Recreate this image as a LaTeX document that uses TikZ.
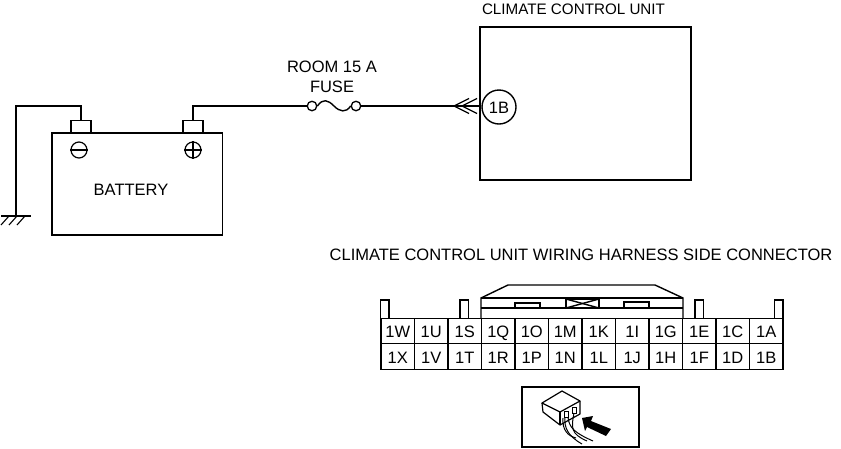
\documentclass[tikz,border=0pt]{standalone}
\usepackage{fontspec}
\setmainfont{Liberation Sans}
\tikzset{
  wire/.style={line width=1.4pt},
  part/.style={draw,line width=1.4pt,rectangle,inner sep=0pt},
  term/.style={draw,line width=1.3pt,circle,inner sep=0pt,minimum size=9.5pt},
  lbl/.style={inner sep=0pt,font=\fontsize{16.5}{19}\selectfont},
  ttl/.style={inner sep=0pt,font=\fontsize{15.2}{18}\selectfont},
  pinlbl/.style={inner sep=0pt,text height=12pt,text depth=0pt,font=\fontsize{16.5}{19}\selectfont}
}
\begin{document}
\begin{tikzpicture}[x=1pt,y=-1pt]
\useasboundingbox (0,0) rectangle (841,448);
% battery
\node[part,minimum width=170.5pt,minimum height=102pt] (battery) at (137.25,184) {};
\node[lbl] (batterylbl) at (131,189.5) {BATTERY};
\node[part,minimum width=20pt,minimum height=12.5pt] (negpost) at (81,127) {};
\node[part,minimum width=20pt,minimum height=12.5pt] (pospost) at (193,127) {};
\node[part,circle,minimum size=16pt,line width=1.2pt] (negsign) at (79,150) {};
\node[part,circle,minimum size=16pt,line width=1.2pt] (possign) at (193,150) {};
\draw[line width=1.2pt] (negsign.west) -- (negsign.east);
\draw[line width=1.2pt] (possign.west) -- (possign.east);
\draw[line width=1.2pt] (possign.north) -- (possign.south);
% ground
\coordinate (gnd) at (16,216);
\draw[wire] (negpost.north) -- ++(0,-14) -| (gnd);
\draw[wire] (1,216) -- (31,216);
\foreach \x in {9,17,25}
  \draw[line width=1.1pt] (\x,216) -- (\x-8,225);
% fuse
\node[term] (fusea) at (312,106) {};
\node[term] (fuseb) at (356,106) {};
\node[lbl] (fuselbla) at (332,67) {ROOM 15 A};
\node[lbl] (fuselblb) at (332,87) {FUSE};
\draw[wire] (pospost.north) |- (fusea.west);
\draw[wire] (fusea.east) .. controls (323,98) and (328,100) .. (334,106) .. controls (340,112) and (346,113) .. (fuseb.west);
% climate control unit
\node[part,minimum width=211pt,minimum height=153pt] (ccu) at (585.5,103.5) {};
\node[ttl] (ccutitle) at (573.5,9) {CLIMATE CONTROL UNIT};
\node[part,circle,minimum size=34pt] (pinb) at (499,107) {};
\node[lbl] (pinblbl) at (499,107.5) {1B};
\draw[wire] (fuseb.east) -- (ccu.west |- fuseb.east);
\foreach \x in {454,462}
  \draw[line width=1.2pt] (\x+15,98.5) -- (\x,106) -- (\x+15,113.5);
% connector
\node[lbl] (conntitle) at (581,255) {CLIMATE CONTROL UNIT WIRING HARNESS SIDE CONNECTOR};
\foreach \i/\top/\bot in {0/W/X,1/U/V,2/S/T,3/Q/R,4/O/P,5/M/N,6/K/L,7/I/J,8/G/H,9/E/F,10/C/D,11/A/B} {
  \node[part,minimum width=33.5pt,minimum height=25.5pt] (cell\top) at (397.75+33.5*\i,331) {};
  \node[part,minimum width=33.5pt,minimum height=25.5pt] (cell\bot) at (397.75+33.5*\i,356.5) {};
  \node[pinlbl] at (397.75+33.5*\i,331.5) {1\top};
  \node[pinlbl] at (397.75+33.5*\i,357) {1\bot};
}
\foreach \x in {380.5,460,695,774.5}
  \draw[wire] (\x,318) -- (\x,300) -- (\x+8.5,300) -- (\x+8.5,318);
\draw[wire] (481,318) -- (481,298) -- (508,285) -- (655,285) -- (683,298) -- (683,318);
\draw[wire] (481,298) -- (683,298);
\draw[wire] (481,308) -- (683,308);
\draw[wire] (515,308) -- (515,303) -- (540,303) -- (540,308);
\draw[wire] (624,308) -- (624,302) -- (649,302) -- (649,308);
\draw[wire] (566,299) rectangle (599,308);
\draw[wire] (566,299) -- (599,308);
\draw[wire] (566,308) -- (599,299);
% view arrow icon
\node[part,minimum width=117pt,minimum height=60pt] (viewbox) at (580.5,417) {};
\draw[line width=1.2pt,line join=round] (542,403) -- (562,391) -- (580,401) -- (560,412) -- cycle;
\draw[line width=1.2pt,line join=round] (542,403) -- (543,412) -- (560,425) -- (580,414) -- (580,401);
\draw[line width=1.2pt] (560,412) -- (560,425);
\draw[line width=.9pt] (564,411) rectangle (568,417);
\draw[line width=.9pt] (572,407) rectangle (576,413);
\draw[line width=1pt] (565,417) .. controls (564,428) and (568,436) .. (582,444);
\draw[line width=1pt] (568,417) .. controls (569,428) and (575,433) .. (593,441);
\draw[line width=1pt] (574,413) .. controls (571,428) and (571,434) .. (587,441);
\draw[line width=1pt] (563,418) .. controls (562,430) and (568,436) .. (576,438);
\fill (582,418) -- (593,416) -- (591,421) -- (611,429) -- (606,436) -- (587,427) -- (585,431) -- cycle;
\end{tikzpicture}
\end{document}
